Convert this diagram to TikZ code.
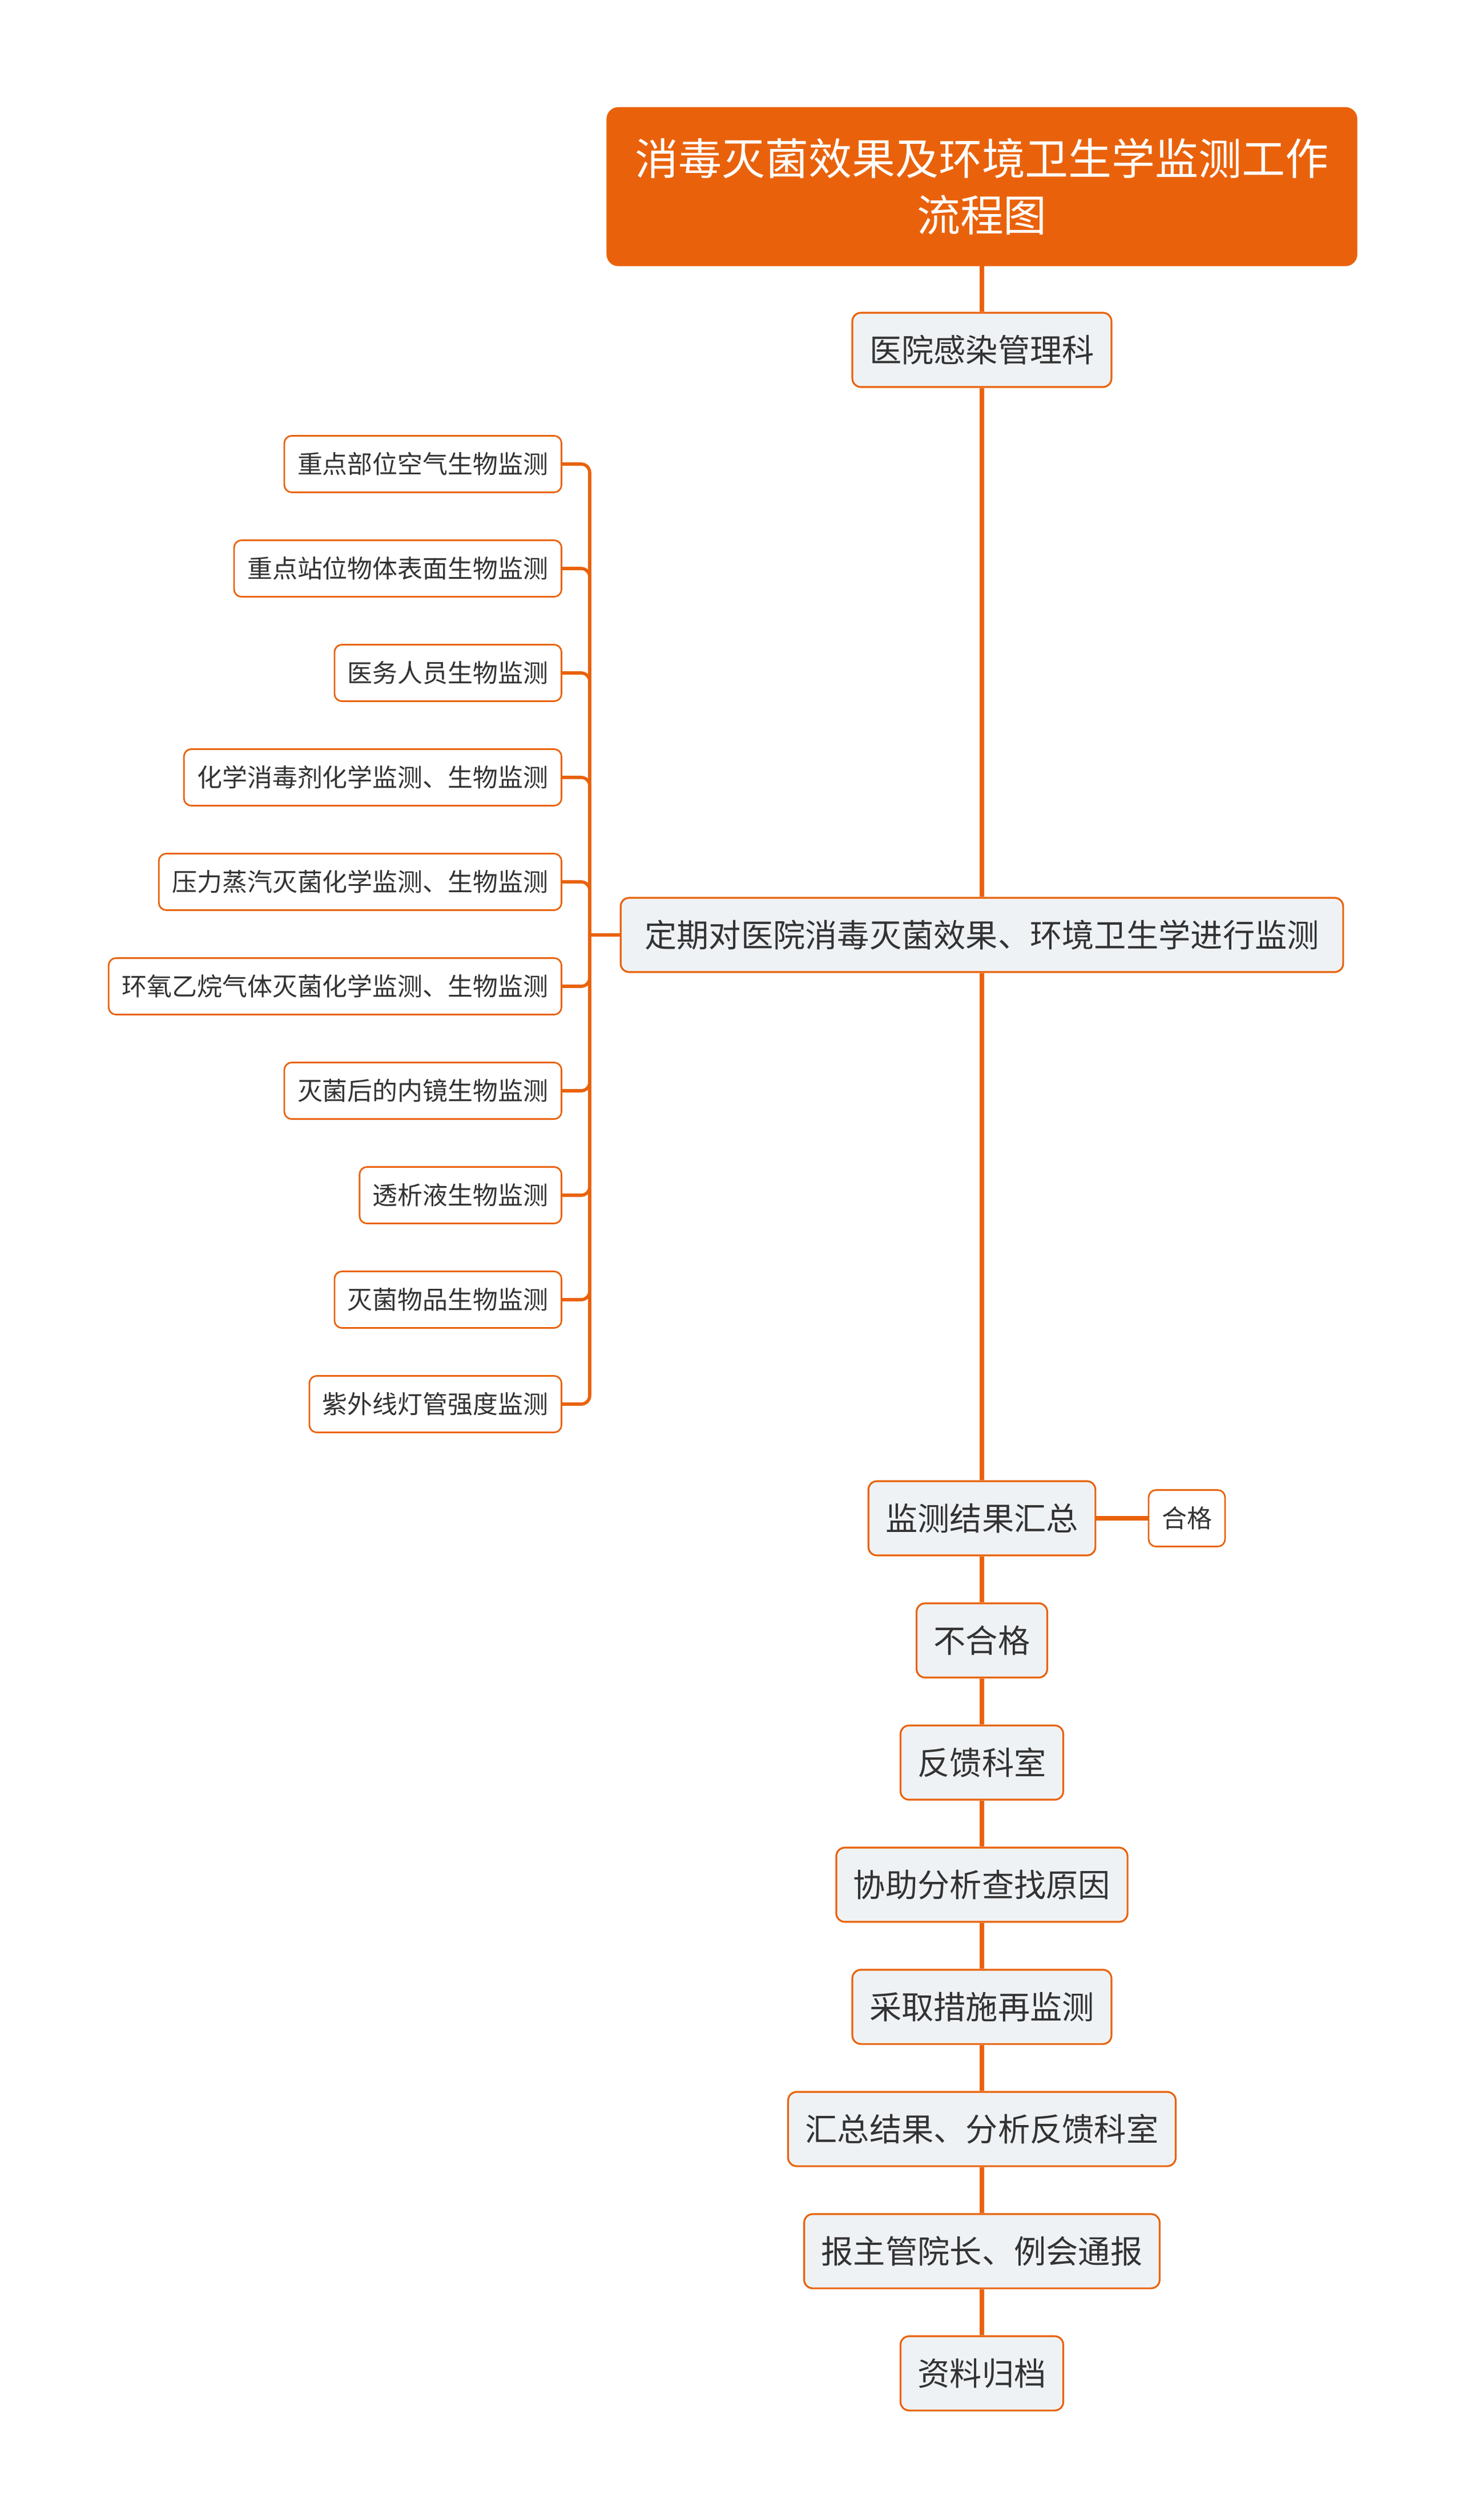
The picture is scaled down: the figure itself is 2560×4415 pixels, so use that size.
\documentclass[tikz,border=0pt]{standalone}
\usepackage{fontspec}
\setmainfont{Noto Sans CJK SC}
\definecolor{zorange}{HTML}{E9620B}
\definecolor{zfill}{HTML}{EFF2F5}
\definecolor{ztext}{HTML}{333333}

\begin{document}
\begin{tikzpicture}[x=0.01cm,y=-0.01cm,
  title/.style={fill=zorange,draw=zorange,rounded corners=0.2cm,text=white,align=center,
    minimum width=13.13cm,minimum height=2.77cm,font=\fontsize{21.6}{28}\selectfont},
  stage/.style={fill=zfill,draw=zorange,line width=0.9pt,rounded corners=0.15cm,text=ztext,
    inner xsep=0.3cm,minimum height=1.3cm,font=\fontsize{16}{19}\selectfont},
  leaf/.style={fill=white,draw=zorange,line width=0.8pt,rounded corners=0.13cm,text=ztext,
    inner xsep=0.23cm,minimum height=0.99cm,font=\fontsize{12.5}{15}\selectfont},
  spine/.style={draw=zorange,line width=2.3pt},
  branch/.style={draw=zorange,line width=1.6pt,rounded corners=0.15cm}]
\useasboundingbox (0,0) rectangle (2560,4415);

% main column
\node[title] (T) at (1720,327) {消毒灭菌效果及环境卫生学监测工作\\流程图};
\node[stage] (A) at (1720,613) {医院感染管理科};
\node[stage,inner xsep=0.42cm] (M) at (1720,1638) {定期对医院消毒灭菌效果、环境卫生学进行监测};
\foreach \t [count=\i] in {监测结果汇总,不合格,反馈科室,协助分析查找原因,采取措施再监测,
  汇总结果、分析反馈科室,报主管院长、例会通报,资料归档}
  \node[stage] (S\i) at (1720,{2660+214*(\i-1)}) {\t};
\node[leaf] (P) at (2079,2660) {合格};

\draw[spine] (T.south) -- (A.north);
\draw[spine] (A.south) -- (M.north);
\draw[spine] (M.south) -- (S1.north);
\foreach \i/\j in {1/2,2/3,3/4,4/5,5/6,6/7,7/8}
  \draw[spine] (S\i.south) -- (S\j.north);
\draw[spine] (S1.east) -- (P.west);

% monitoring items
\foreach \t [count=\i] in {重点部位空气生物监测,重点站位物体表面生物监测,医务人员生物监测,
  化学消毒剂化学监测、生物监测,压力蒸汽灭菌化学监测、生物监测,
  环氧乙烷气体灭菌化学监测、生物监测,灭菌后的内镜生物监测,透析液生物监测,
  灭菌物品生物监测,紫外线灯管强度监测}
  \node[leaf,anchor=east] (L\i) at (985,{813+183*(\i-1)}) {\t};
\coordinate (trunk) at (1033,1638);
\foreach \i in {1,...,10}
  \draw[branch] (L\i.east) -| (trunk);
\draw[branch] (trunk) -- (M.west);
\end{tikzpicture}
\end{document}
